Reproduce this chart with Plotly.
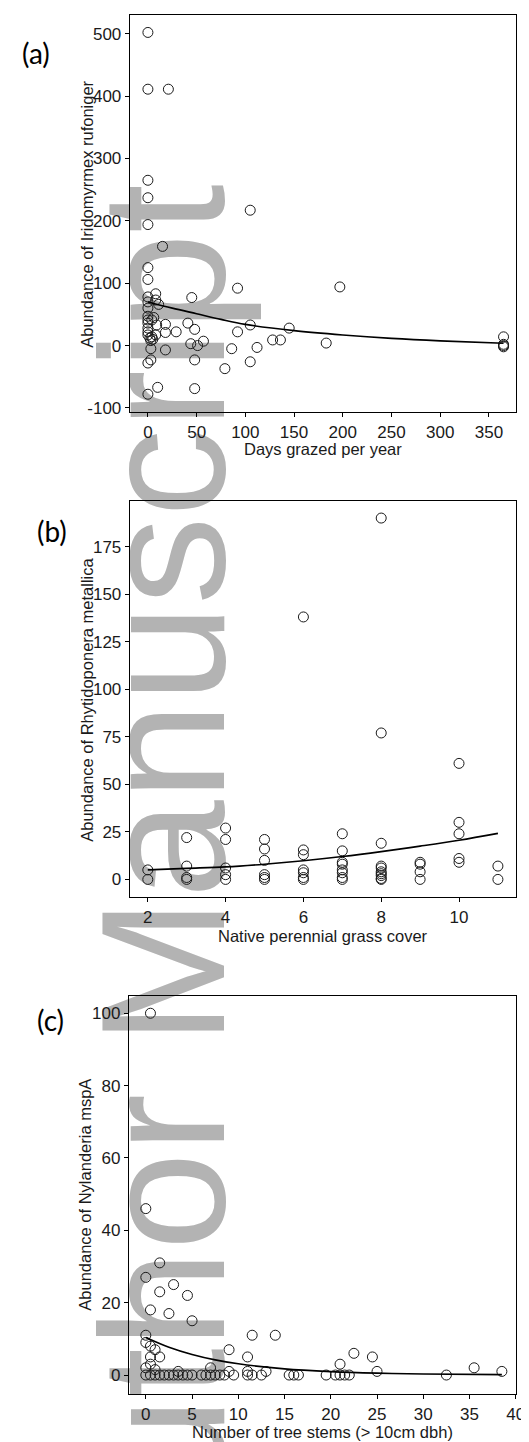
import plotly.graph_objects as go

W, H = 529, 1442

# ---------------- Panel (a) ----------------
a_days = [0, 0, 21, 0, 0, 0, 15, 105, 0, 0, 197, 92, 45, 8, 0, 8, 11, 0, 0, 0,
          6, 4, 0, 0, 18, 9, 41, 105, 145, 48, 92, 29, 18, 0, 0, 0, 4, 8, 2, 3,
          5, 128, 136, 183, 44, 57, 51, 3, 18, 86, 112, 48, 3, 0, 105, 79, 10, 48,
          0, 365, 365, 365, 365]
a_abund = [502, 411, 411, 265, 237, 194, 159, 217, 125, 106, 94, 92, 77, 83, 78, 73, 66, 70, 60, 47,
           45, 41, 41, 36, 34, 33, 36, 33, 28, 26, 22, 22, 21, 28, 22, 17, 14, 17, 12, 8,
           10, 9, 9, 4, 3, 7, 0, -5, -7, -5, -3, -23, -23, -28, -26, -37, -67, -69,
           -78, 14, 2, 0, -2]
a_fit_x = [0, 25, 50, 75, 100, 150, 200, 250, 300, 365]
a_fit_y = [70, 60, 51, 42, 34, 24, 17, 11.5, 7.5, 3.7]
a_xticks = [0, 50, 100, 150, 200, 250, 300, 350]
a_yticks = [-100, 0, 100, 200, 300, 400, 500]

# ---------------- Panel (b) ----------------
b_cover = [2, 2, 3, 3, 3, 3, 4, 4, 4, 4, 4, 5, 5, 5, 5, 5, 5, 6, 6, 6, 6, 6, 6, 6,
           7, 7, 7, 7, 7, 7, 7, 7, 8, 8, 8, 8, 8, 8, 8, 8, 8, 8, 9, 9, 9, 9,
           10, 10, 10, 10, 10, 11, 11]
b_abund = [5, 0, 22, 7, 1, 0, 27, 21, 6, 2.5, 0, 21, 16, 10, 2.5, 1, 0, 138, 15.5, 13, 5, 3.5, 1, 0,
           24, 15, 9, 8, 5, 3.5, 1, 0, 190, 77, 19, 7, 6, 4, 3, 2, 0.5, 0, 9, 8, 4, 0,
           61, 30, 24, 11, 9, 7, 0]
b_fit_x = [2, 3, 4, 5, 6, 7, 8, 9, 10, 11]
b_fit_y = [5.0, 5.8, 6.6, 8.0, 9.8, 12.0, 14.6, 17.5, 20.6, 24.2]
b_xticks = [2, 4, 6, 8, 10]
b_yticks = [0, 25, 50, 75, 100, 125, 150, 175]

# ---------------- Panel (c) ----------------
c_stems = [0.5, 0, 1.5, 0, 3, 1.5, 4.5, 0.5, 2.5, 5, 0, 11.5, 14, 0, 0.5, 1, 9, 22.5, 0.5, 1.5,
           11, 24.5, 0.5, 21, 0, 7, 35.5, 1, 3.5, 9, 11, 13, 25, 38.5,
           0, 0.5, 1, 1.5, 2, 2.5, 3, 3.5, 4, 4.5, 5, 6, 6.5, 7, 7.5, 8, 8.5, 9.5, 11, 11.5,
           12.5, 15.5, 16, 16.5, 19.5, 20.5, 21, 21.5, 22, 32.5]
c_abund = [100, 46, 31, 27, 25, 23, 22, 18, 17, 15, 11, 11, 11, 9, 8, 7, 7, 6, 5, 5,
           5, 5, 3, 3, 2, 2, 2, 1.5, 1, 1, 1, 1, 1, 1,
           0, 0, 0, 0, 0, 0, 0, 0, 0, 0, 0, 0, 0, 0, 0, 0, 0, 0, 0, 0,
           0, 0, 0, 0, 0, 0, 0, 0, 0, 0]
c_fit_x = [0, 2.5, 5, 7.5, 10, 15, 20, 25, 30, 38.5]
c_fit_y = [10.4, 7.7, 5.7, 4.2, 3.1, 1.7, 0.95, 0.52, 0.28, 0.1]
c_xticks = [0, 5, 10, 15, 20, 25, 30, 35, 40]
c_yticks = [0, 20, 40, 60, 80, 100]

FONT = "Liberation Sans, Arial, sans-serif"
marker = dict(symbol="circle-open", size=10, color="#1a1a1a", line=dict(width=1))
fitline = dict(color="black", width=1.6, shape="spline")

fig = go.Figure()
panels = [
    ("x", "y", a_days, a_abund, a_fit_x, a_fit_y),
    ("x2", "y2", b_cover, b_abund, b_fit_x, b_fit_y),
    ("x3", "y3", c_stems, c_abund, c_fit_x, c_fit_y),
]
for xa, ya, px, py, fx, fy in panels:
    fig.add_trace(go.Scatter(x=px, y=py, mode="markers", marker=marker,
                             xaxis=xa, yaxis=ya, showlegend=False, hoverinfo="skip"))
    fig.add_trace(go.Scatter(x=fx, y=fy, mode="lines", line=fitline,
                             xaxis=xa, yaxis=ya, showlegend=False, hoverinfo="skip"))


def px_x(p):
    return p / W


def px_y(p):
    return 1 - p / H


def ax(domain, rng, ticks, anchor):
    return dict(domain=domain, range=rng, tickvals=ticks, ticktext=[str(t) for t in ticks],
                showline=True, linecolor="black", linewidth=1.3, mirror=True,
                ticks="outside", ticklen=4, tickwidth=1.3, tickcolor="black",
                showgrid=False, zeroline=False, anchor=anchor,
                tickfont=dict(family=FONT, size=17, color="#1a1a1a"))


xdom = [px_x(124), px_x(517)]
fig.update_layout(
    xaxis=ax(xdom, [-18.5, 378], a_xticks, "y"),
    yaxis=ax([px_y(406), px_y(7)], [-107, 530], a_yticks, "x"),
    xaxis2=ax(xdom, [1.54, 11.47], b_xticks, "y2"),
    yaxis2=ax([px_y(893), px_y(495)], [-9.4, 199], b_yticks, "x2"),
    xaxis3=ax([px_x(123), px_x(517)], [-1.83, 40.05], c_xticks, "y3"),
    yaxis3=ax([px_y(1392), px_y(992)], [-5.3, 104.8], c_yticks, "x3"),
)

annotations = []
# axis titles
for txt, cx, cy, ang in [
    ("Days grazed per year", 320, 443, 0),
    ("Abundance of Iridomyrmex rufoniger", 80, 207, -90),
    ("Native perennial grass cover", 320, 932, 0),
    ("Abundance of Rhytidoponera metallica", 80, 695, -90),
    ("Number of tree stems (> 10cm dbh)", 320, 1430, 0),
    ("Abundance of Nylanderia mspA", 78, 1192, -90),
]:
    annotations.append(dict(text=txt, x=px_x(cx), y=px_y(cy), xref="paper", yref="paper",
                            xanchor="center", yanchor="middle", showarrow=False, textangle=ang,
                            font=dict(family=FONT, size=16.5, color="#1a1a1a")))
# panel letters
for txt, cx, cy in [("(a)", 28, 45), ("(b)", 45, 525), ("(c)", 43, 1016)]:
    annotations.append(dict(text=txt, x=px_x(cx), y=px_y(cy), xref="paper", yref="paper",
                            xanchor="center", yanchor="middle", showarrow=False,
                            font=dict(family="Lato, Open Sans, sans-serif", size=28, color="black")))

# watermark (drawn beneath the data)
wm_cx, wm_cy = 140, 894
shapes = [dict(type="rect", xref="paper", yref="paper", layer="below",
               x0=px_x(wm_cx - 60), x1=px_x(wm_cx + 60),
               y0=px_y(wm_cy + 60), y1=px_y(wm_cy - 60),
               line=dict(width=0), fillcolor="rgba(0,0,0,0)",
               label=dict(text="Author Manuscript", textangle=-90, textposition="middle center",
                          font=dict(family="Liberation Sans, Arial, sans-serif", size=176,
                                    color="#b3b3b3")))]

fig.update_layout(width=W, height=H, margin=dict(l=0, r=0, t=0, b=0),
                  paper_bgcolor="white", plot_bgcolor="rgba(0,0,0,0)",
                  annotations=annotations, shapes=shapes, showlegend=False)

fig.write_html("out.html")
